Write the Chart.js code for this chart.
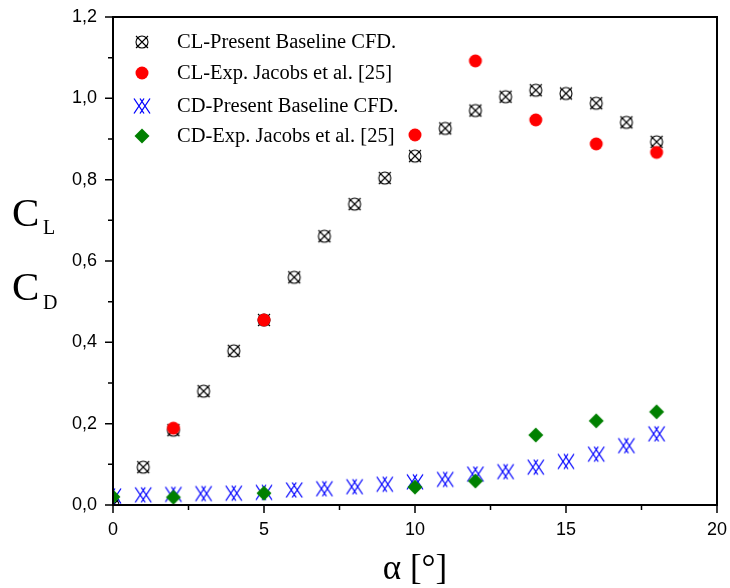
<!DOCTYPE html>
<html>
<head>
<meta charset="utf-8">
<script src="https://cdn.jsdelivr.net/npm/chart.js@4"></script>
<style>
  html, body { margin: 0; padding: 0; background: #fff; }
  #wrap { width: 730px; height: 588px; }
</style>
</head>
<body>
<div id="wrap"><canvas id="chart" width="730" height="588"></canvas></div>
<script>
// data
const alphaCfd = [0, 1, 2, 3, 4, 5, 6, 7, 8, 9, 10, 11, 12, 13, 14, 15, 16, 17, 18];
const clCfd = [0.0, 0.093, 0.184, 0.280, 0.379, 0.455, 0.560, 0.661, 0.740, 0.804, 0.858, 0.926, 0.970, 1.004, 1.020, 1.012, 0.988, 0.941, 0.893];
const cdCfd = [0.022, 0.025, 0.026, 0.028, 0.029, 0.031, 0.037, 0.040, 0.045, 0.051, 0.057, 0.063, 0.076, 0.082, 0.093, 0.107, 0.125, 0.146, 0.175];

const alphaClExp = [2, 5, 10, 12, 14, 16, 18];
const clExp = [0.189, 0.455, 0.910, 1.092, 0.947, 0.888, 0.867];

const alphaCdExp = [0, 2, 5, 10, 12, 14, 16, 18];
const cdExp = [0.020, 0.019, 0.029, 0.044, 0.059, 0.172, 0.207, 0.229];

const xTicks = [0, 5, 10, 15, 20];
const yTicks = [0, 0.2, 0.4, 0.6, 0.8, 1.0, 1.2];

const legendLabels = [
  'CL-Present Baseline CFD.',
  'CL-Exp. Jacobs et al. [25]',
  'CD-Present Baseline CFD.',
  'CD-Exp. Jacobs et al. [25]'
];

// marker painters
function drawCircleX(ctx, x, y) {
  ctx.save();
  ctx.strokeStyle = '#000';
  ctx.lineWidth = 1.1;
  ctx.beginPath();
  ctx.arc(x, y, 6, 0, Math.PI * 2);
  ctx.moveTo(x - 6, y - 6); ctx.lineTo(x + 6, y + 6);
  ctx.moveTo(x + 6, y - 6); ctx.lineTo(x - 6, y + 6);
  ctx.stroke();
  ctx.restore();
}
function drawDoubleX(ctx, x, y) {
  ctx.save();
  ctx.strokeStyle = '#0000ff';
  ctx.lineWidth = 1.3;
  ctx.beginPath();
  [-3, 3].forEach(d => {
    ctx.moveTo(x + d - 5, y - 7.5); ctx.lineTo(x + d + 5, y + 7.5);
    ctx.moveTo(x + d + 5, y - 7.5); ctx.lineTo(x + d - 5, y + 7.5);
  });
  ctx.stroke();
  ctx.restore();
}
function drawDot(ctx, x, y) {
  ctx.save();
  ctx.fillStyle = '#ff0000';
  ctx.beginPath();
  ctx.arc(x, y, 6.5, 0, Math.PI * 2);
  ctx.fill();
  ctx.restore();
}
function drawDiamond(ctx, x, y) {
  ctx.save();
  ctx.fillStyle = '#008000';
  ctx.beginPath();
  ctx.moveTo(x, y - 7.5); ctx.lineTo(x + 7.5, y); ctx.lineTo(x, y + 7.5); ctx.lineTo(x - 7.5, y);
  ctx.closePath();
  ctx.fill();
  ctx.restore();
}
const painters = [drawCircleX, drawDot, drawDoubleX, drawDiamond];

function markerCanvas(fn) {
  const c = document.createElement('canvas');
  c.width = 24; c.height = 24;
  fn(c.getContext('2d'), 12, 12);
  return c;
}

const frameAndText = {
  id: 'frameAndText',
  afterDraw(chart) {
    const ctx = chart.ctx;
    const a = chart.chartArea;
    const xs = chart.scales.x, ys = chart.scales.y;
    ctx.save();
    ctx.strokeStyle = '#000';
    ctx.lineWidth = 2;
    ctx.strokeRect(a.left, a.top, a.right - a.left, a.bottom - a.top);

    // ticks, outward
    ctx.lineWidth = 1.5;
    ctx.beginPath();
    for (let v = 0; v <= 20; v += 2.5) {
      const px = xs.getPixelForValue(v);
      const len = (v % 5 === 0) ? 8 : 5;
      ctx.moveTo(px, a.bottom); ctx.lineTo(px, a.bottom + len);
    }
    for (let i = 0; i <= 12; i++) {
      const py = ys.getPixelForValue(i / 10);
      const len = (i % 2 === 0) ? 8 : 5;
      ctx.moveTo(a.left, py); ctx.lineTo(a.left - len, py);
    }
    ctx.stroke();

    // axis titles
    ctx.fillStyle = '#000';
    ctx.textAlign = 'center';
    ctx.textBaseline = 'alphabetic';
    ctx.font = '35px "Liberation Serif"';
    ctx.fillText('\u03b1 [\u00b0]', (a.left + a.right) / 2, 579);

    ctx.textAlign = 'left';
    ctx.font = '41px "Liberation Serif"';
    ctx.fillText('C', 12, 226);
    ctx.fillText('C', 12, 300);
    ctx.font = '20px "Liberation Serif"';
    ctx.fillText('L', 43, 234);
    ctx.fillText('D', 43, 309);

    // legend
    const rows = [42, 73, 106, 136];
    ctx.font = '20.5px "Liberation Serif"';
    ctx.textBaseline = 'middle';
    rows.forEach((ry, i) => {
      painters[i](ctx, 142, ry);
      ctx.fillText(legendLabels[i], 177, ry + 1);
    });
    ctx.restore();
  }
};

new Chart(document.getElementById('chart'), {
  type: 'scatter',
  data: {
    datasets: [
      {
        label: legendLabels[0],
        data: alphaCfd.map((x, i) => ({ x: x, y: clCfd[i] })),
        pointStyle: markerCanvas(drawCircleX),
        order: 4
      },
      {
        label: legendLabels[1],
        data: alphaClExp.map((x, i) => ({ x: x, y: clExp[i] })),
        pointStyle: markerCanvas(drawDot),
        order: 2
      },
      {
        label: legendLabels[2],
        data: alphaCfd.map((x, i) => ({ x: x, y: cdCfd[i] })),
        pointStyle: markerCanvas(drawDoubleX),
        order: 3
      },
      {
        label: legendLabels[3],
        data: alphaCdExp.map((x, i) => ({ x: x, y: cdExp[i] })),
        pointStyle: markerCanvas(drawDiamond),
        order: 1
      }
    ]
  },
  options: {
    responsive: false,
    animation: false,
    layout: { padding: { top: 17, right: 13, left: 0, bottom: 0 } },
    plugins: {
      legend: { display: false },
      tooltip: { enabled: false }
    },
    scales: {
      x: {
        type: 'linear',
        min: 0, max: 20,
        afterBuildTicks: s => { s.ticks = xTicks.map(v => ({ value: v })); },
        afterFit: s => { s.height = 83; s.paddingLeft = 0; s.paddingRight = 0; },
        grid: { drawOnChartArea: false, drawTicks: false },
        border: { display: false },
        ticks: {
          padding: 14,
          color: '#000',
          font: { family: '"Liberation Sans"', size: 18 },
          callback: v => String(v)
        }
      },
      y: {
        type: 'linear',
        min: 0, max: 1.2,
        afterBuildTicks: s => { s.ticks = yTicks.map(v => ({ value: v })); },
        afterFit: s => { s.width = 113; s.paddingTop = 0; s.paddingBottom = 0; },
        grid: { drawOnChartArea: false, drawTicks: false },
        border: { display: false },
        ticks: {
          padding: 16,
          color: '#000',
          font: { family: '"Liberation Sans"', size: 18 },
          callback: v => v.toFixed(1).replace('.', ',')
        }
      }
    }
  },
  plugins: [frameAndText]
});
</script>
</body>
</html>
